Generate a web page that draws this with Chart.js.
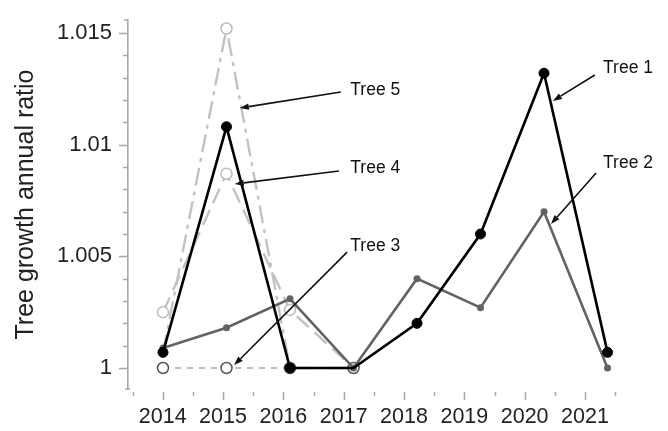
<!DOCTYPE html>
<html>
<head>
<meta charset="utf-8">
<script src="https://cdn.jsdelivr.net/npm/chart.js@4"></script>
<style>
  html, body { margin: 0; padding: 0; background: #fff; }
  #wrap { width: 668px; height: 431px; }
</style>
</head>
<body>
<div id="wrap"><canvas id="c" width="668" height="431"></canvas></div>
<script>
// Annual growth ratio per tree, one value per year (null = no record)
const years = [2014, 2015, 2016, 2017, 2018, 2019, 2020, 2021];
const tree1 = [1.0007, 1.0108, 1.0000, 1.0000, 1.0020, 1.0060, 1.0132, 1.0007];
const tree2 = [1.0009, 1.0018, 1.0031, 1.0000, 1.0040, 1.0027, 1.0070, 1.0000];
const tree3 = [1.0000, 1.0000, 1.0000, 1.0000, null, null, null, null];
const tree4 = [1.0025, 1.0087, 1.0026, 1.0000, null, null, null, null];
const tree5 = [1.0007, 1.0152, 1.0000, 1.0000, null, null, null, null];
const seriesNames = ['Tree 1', 'Tree 2', 'Tree 3', 'Tree 4', 'Tree 5'];
const yTickLabels = ['1', '1.005', '1.01', '1.015'];
const yAxisTitle = 'Tree growth annual ratio';

// Callout label anchor and arrow (start, tip) in data units: [year, ratio]
const calloutText  = [[2020.93, 1.01341], [2020.93, 1.00916], [2016.95, 1.00546], [2016.95, 1.00896], [2016.95, 1.01245]];
const calloutFrom  = [[2020.80, 1.01312], [2020.82, 1.00873], [2016.90, 1.00519], [2016.77, 1.00882], [2016.80, 1.01236]];
const calloutTip   = [[2020.14, 1.01196], [2020.11, 1.00645], [2015.12, 1.00013], [2015.13, 1.00824], [2015.21, 1.01164]];

const FONT = "'Liberation Sans', Arial, Helvetica, sans-serif";
Chart.defaults.font.family = FONT;
Chart.defaults.color = '#222';

const toPoints = vals => years.map((yr, i) => ({ x: yr, y: vals[i] })).filter(p => p.y !== null);

const datasets = [
  { label: seriesNames[0], data: toPoints(tree1), borderColor: '#000', borderWidth: 2.6,
    pointRadius: [5, 5, 5, 0, 5, 5, 5, 5], pointBackgroundColor: '#000', pointBorderColor: '#000', pointBorderWidth: 1 },
  { label: seriesNames[1], data: toPoints(tree2), borderColor: '#626262', borderWidth: 2.6,
    pointRadius: 3.5, pointBackgroundColor: '#626262', pointBorderColor: '#626262', pointBorderWidth: 0 },
  { label: seriesNames[2], data: toPoints(tree3), borderColor: '#bdbdbd', borderWidth: 2.2, borderDash: [6, 6],
    pointRadius: 5.5, pointBackgroundColor: '#fff', pointBorderColor: '#555', pointBorderWidth: 1.5 },
  { label: seriesNames[3], data: toPoints(tree4), borderColor: '#c2c2c2', borderWidth: 2.4, borderDash: [16, 8],
    pointRadius: 5.5, pointBackgroundColor: '#fff', pointBorderColor: '#bbb', pointBorderWidth: 1.5 },
  { label: seriesNames[4], data: toPoints(tree5), borderColor: '#c2c2c2', borderWidth: 2.4, borderDash: [18, 6, 4, 6],
    pointRadius: [0, 5.5, 0, 0], pointBackgroundColor: '#fff', pointBorderColor: '#bbb', pointBorderWidth: 1.5 }
];

const isMajorY = v => Math.abs(v * 200 - Math.round(v * 200)) < 1e-6;

// Short tick marks: long on labelled values, short in between
const tickMarks = {
  id: 'tickMarks',
  afterDraw(chart) {
    const { ctx } = chart;
    const ys = chart.scales.y, xs = chart.scales.xLabel;
    ctx.save();
    ctx.strokeStyle = '#a8a8a8';
    ctx.lineWidth = 1.5;
    ctx.beginPath();
    ys.ticks.forEach(t => {
      const py = Math.round(ys.getPixelForValue(t.value)) + 0.5;
      ctx.moveTo(ys.right - (isMajorY(t.value) ? 9 : 5), py);
      ctx.lineTo(ys.right, py);
    });
    ctx.moveTo(ys.right - 4, ys.top); ctx.lineTo(ys.right, ys.top);
    ctx.moveTo(ys.right - 3, ys.bottom); ctx.lineTo(ys.right + 2, ys.bottom);
    xs.ticks.forEach(t => {
      const px = Math.round(xs.getPixelForValue(t.value)) + 0.5;
      ctx.moveTo(px, xs.top + 3);
      ctx.lineTo(px, xs.top + (Number.isInteger(t.value) ? 11 : 7));
    });
    ctx.stroke();
    ctx.restore();
  }
};

// Series callouts with arrows
const callouts = {
  id: 'callouts',
  afterDatasetsDraw(chart) {
    const { ctx } = chart;
    const xs = chart.scales.x, ys = chart.scales.y;
    const P = p => [xs.getPixelForValue(p[0]), ys.getPixelForValue(p[1])];
    ctx.save();
    ctx.font = '17.5px ' + FONT;
    ctx.fillStyle = '#111';
    ctx.textAlign = 'left';
    ctx.textBaseline = 'middle';
    seriesNames.forEach((name, i) => {
      const [tx, ty] = P(calloutText[i]);
      ctx.fillText(name, tx, ty);
      const [x0, y0] = P(calloutFrom[i]);
      const [x1, y1] = P(calloutTip[i]);
      const a = Math.atan2(y1 - y0, x1 - x0);
      const len = 9, hw = 3.2;
      const bx = x1 - len * Math.cos(a), by = y1 - len * Math.sin(a);
      ctx.strokeStyle = '#111';
      ctx.lineWidth = 1.6;
      ctx.beginPath();
      ctx.moveTo(x0, y0);
      ctx.lineTo(bx, by);
      ctx.stroke();
      ctx.beginPath();
      ctx.moveTo(x1, y1);
      ctx.lineTo(bx + hw * Math.sin(a), by - hw * Math.cos(a));
      ctx.lineTo(bx - hw * Math.sin(a), by + hw * Math.cos(a));
      ctx.closePath();
      ctx.fill();
    });
    ctx.restore();
  }
};

new Chart(document.getElementById('c'), {
  type: 'line',
  data: { datasets },
  options: {
    responsive: false,
    devicePixelRatio: 1,
    animation: false,
    layout: { padding: { top: 20, right: 38, left: 0, bottom: 0 } },
    plugins: { legend: { display: false }, tooltip: { enabled: false } },
    elements: { line: { tension: 0 } },
    scales: {
      x: { type: 'linear', display: false, min: 2013.449, max: 2021.354 },
      xLabel: {
        type: 'linear', position: 'bottom', min: 2013.425, max: 2021.746,
        grid: { display: false, drawTicks: false },
        border: { display: false },
        ticks: {
          stepSize: 0.5, includeBounds: false, autoSkip: false, maxRotation: 0, minRotation: 0,
          padding: 15, color: '#222', font: { size: 21.5 },
          callback: v => Number.isInteger(v) ? String(v) : ''
        },
        afterFit: s => { s.height = 42; s.paddingLeft = 0; s.paddingRight = 0; }
      },
      y: {
        type: 'linear', position: 'left', min: 0.99906, max: 1.015582,
        grid: { display: false, drawTicks: false },
        border: { display: true, color: '#a8a8a8', width: 1.6 },
        ticks: {
          stepSize: 0.001, includeBounds: false, autoSkip: false,
          padding: 16, color: '#222', font: { size: 22 },
          callback: v => {
            const k = Math.round((v - 1) / 0.005);
            return isMajorY(v) && k >= 0 && k < yTickLabels.length ? yTickLabels[k] : '';
          }
        },
        title: { display: true, text: yAxisTitle, color: '#222', font: { size: 25 }, padding: { top: 11, bottom: 0 } },
        afterFit: s => { s.width = 128; s.paddingTop = 0; s.paddingBottom = 0; }
      }
    }
  },
  plugins: [tickMarks, callouts]
});
</script>
</body>
</html>
